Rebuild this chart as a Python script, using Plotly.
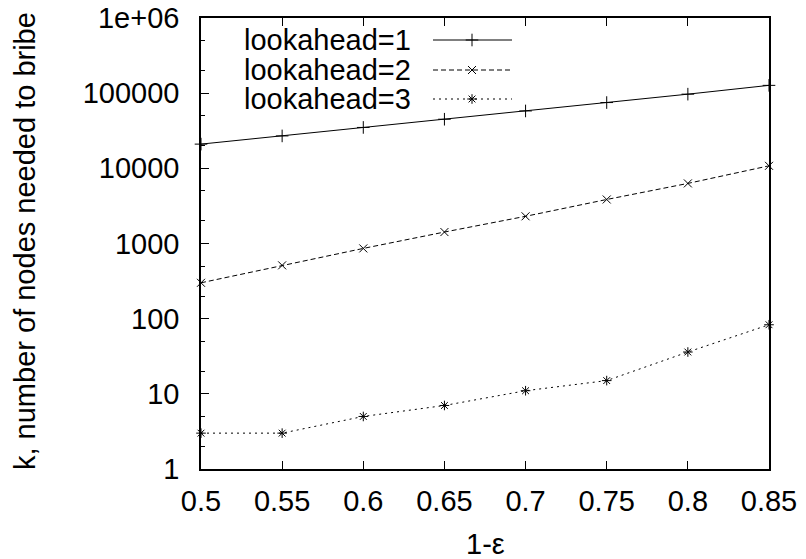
import plotly.graph_objects as go

x_vals = [0.5, 0.55, 0.6, 0.65, 0.7, 0.75, 0.8, 0.85]
look1 = [21000, 27000, 35000, 45000, 58000, 75000, 97000, 127000]
look2 = [300, 512, 860, 1420, 2300, 3850, 6300, 10800]
look3 = [3, 3, 5, 7, 11, 15, 36, 83]

names = ["lookahead=1", "lookahead=2", "lookahead=3"]
series = [look1, look2, look3]
dashes = ["solid", "5px,3px", "2px,4px"]
symbols = ["cross-thin-open", "x-thin-open", "asterisk-open"]
msizes = [9, 8, 8]

y_tickvals = [1, 10, 100, 1000, 10000, 100000, 1000000]
y_ticktext = ["1", "10", "100", "1000", "10000", "100000", "1e+06"]
y_minorvals = [m * 10 ** e for e in range(6) for m in (2, 5)]
x_tickvals = [0.5, 0.55, 0.6, 0.65, 0.7, 0.75, 0.8, 0.85]
x_ticktext = ["0.5", "0.55", "0.6", "0.65", "0.7", "0.75", "0.8", "0.85"]

FONT = "Liberation Sans, Arial, sans-serif"
FS = 29

# plot area in pixels
L, R, T, B = 201, 769, 18, 469
W, H = 806, 559

fig = go.Figure()
for name, ys, d, s, ms in zip(names, series, dashes, symbols, msizes):
    fig.add_trace(go.Scatter(
        x=x_vals, y=ys, mode="lines+markers", name=name,
        line=dict(color="black", width=1, dash=d),
        marker=dict(symbol=s, size=ms, color="black", line=dict(color="black", width=1)),
        cliponaxis=False, showlegend=False,
    ))

# gnuplot-style legend: text on the left, sample on the right (overlay pixel axes)
row_y = [40, 70, 99]
for name, d, s, ms, ry in zip(names, dashes, symbols, msizes, row_y):
    fig.add_trace(go.Scatter(
        x=[433, 472, 512], y=[ry, ry, ry], mode="lines", xaxis="x2", yaxis="y2",
        line=dict(color="black", width=1, dash=d), showlegend=False, hoverinfo="skip",
    ))
    fig.add_trace(go.Scatter(
        x=[472], y=[ry], mode="markers", xaxis="x2", yaxis="y2",
        marker=dict(symbol=s, size=ms, color="black", line=dict(color="black", width=1)),
        showlegend=False, hoverinfo="skip",
    ))
    fig.add_annotation(
        x=413, y=ry, xref="x2", yref="y2", text=name, showarrow=False,
        xanchor="right", yanchor="middle",
        font=dict(family=FONT, size=FS, color="black"),
    )

fig.update_layout(
    width=W, height=H,
    margin=dict(l=L, r=W - R, t=T, b=H - B, pad=0, autoexpand=False),
    paper_bgcolor="white", plot_bgcolor="white",
    font=dict(family=FONT, size=FS, color="black"),
    xaxis=dict(
        range=[0.5, 0.85], tickvals=x_tickvals, ticktext=x_ticktext,
        ticks="inside", ticklen=8, tickwidth=1, tickcolor="black",
        showline=True, linecolor="black", linewidth=1.5, mirror="ticks",
        showgrid=False, zeroline=False, ticklabelstandoff=5, automargin=False,
        tickfont=dict(family=FONT, size=FS, color="black"),
    ),
    yaxis=dict(
        type="log", range=[0, 6], tickvals=y_tickvals, ticktext=y_ticktext,
        ticks="inside", ticklen=8, tickwidth=1, tickcolor="black",
        minor=dict(tickmode="array", tickvals=y_minorvals, ticks="inside", ticklen=4,
                   tickwidth=1, tickcolor="black", showgrid=False),
        showline=True, linecolor="black", linewidth=1.5, mirror=True,
        showgrid=False, zeroline=False, ticklabelstandoff=14, automargin=False,
        tickfont=dict(family=FONT, size=FS, color="black"),
    ),
    xaxis2=dict(range=[L, R], overlaying="x", visible=False, fixedrange=True),
    yaxis2=dict(range=[B, T], overlaying="y", visible=False, fixedrange=True),
    showlegend=False,
)

fig.add_annotation(
    x=485, y=544, xref="paper", yref="paper", text="1-ε", showarrow=False,
    xanchor="center", yanchor="middle", font=dict(family=FONT, size=FS, color="black"),
)
fig.add_annotation(
    x=25, y=241, xref="paper", yref="paper", text="k, number of nodes needed to bribe",
    showarrow=False, textangle=-90, xanchor="center", yanchor="middle",
    font=dict(family=FONT, size=FS, color="black"),
)
# convert pixel positions for the titles to paper coordinates
for ann in fig.layout.annotations:
    if ann.xref == "paper":
        px, py = ann.x, ann.y
        ann.x = (px - L) / (R - L)
        ann.y = (B - py) / (B - T)

fig.write_html("out.html")
